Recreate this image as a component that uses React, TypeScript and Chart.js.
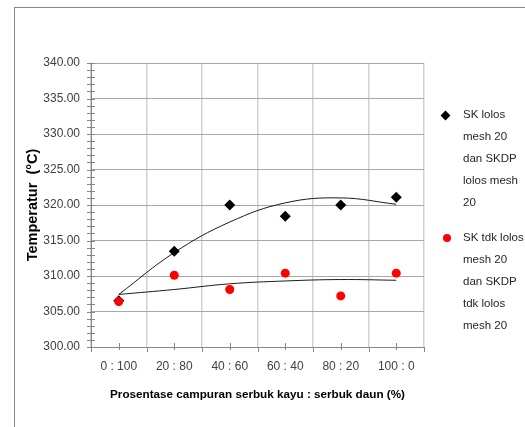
import React, { useEffect, useRef } from 'react';
import { Chart, registerables } from 'chart.js';

Chart.register(...registerables);

const categories = ['0 : 100', '20 : 80', '40 : 60', '60 : 40', '80 : 20', '100 : 0'];
const skLolos = [306.5, 313.5, 320.0, 318.4, 320.0, 321.1];
const skTdkLolos = [306.4, 310.1, 308.1, 310.4, 307.2, 310.4];
const trendLolos = [307.4, 313.3, 317.6, 320.3, 321.0, 320.1];
const trendTdkLolos = [307.4, 308.1, 308.9, 309.3, 309.5, 309.4];
const yMin = 300;
const yMax = 340;
const yStep = 5;
const legendLolos = ['SK lolos', 'mesh 20', 'dan SKDP', 'lolos mesh', '20'];
const legendTdkLolos = ['SK tdk lolos', 'mesh 20', 'dan SKDP', 'tdk lolos', 'mesh 20'];
const xTitle = 'Prosentase campuran serbuk kayu : serbuk daun (%)';
const yTitle = 'Temperatur  (°C)';

const FONT = "'Liberation Sans', Arial, sans-serif";

export default function App() {
  const ref = useRef<HTMLCanvasElement>(null);

  useEffect(() => {
    const tickPlugin = {
      id: 'excelTicks',
      beforeDatasetsDraw(chart: any) {
        const { ctx, chartArea } = chart;
        const y = chart.scales.y;
        ctx.save();
        ctx.strokeStyle = '#868686';
        ctx.lineWidth = 1;
        ctx.beginPath();
        for (let v = yMin; v <= yMax; v++) {
          const py = Math.round(y.getPixelForValue(v)) + 0.5;
          ctx.moveTo(chartArea.left - 4, py);
          ctx.lineTo(chartArea.left + 4, py);
        }
        const n = categories.length;
        const w = (chartArea.right - chartArea.left) / n;
        for (let i = 0; i <= n; i++) {
          const bx = Math.round(chartArea.left + i * w) + 0.5;
          ctx.moveTo(bx, chartArea.bottom);
          ctx.lineTo(bx, chartArea.bottom + 5);
        }
        for (let i = 0; i < n; i++) {
          const cx = Math.round(chartArea.left + (i + 0.5) * w) + 0.5;
          ctx.moveTo(cx, chartArea.bottom - 4);
          ctx.lineTo(cx, chartArea.bottom + 3);
        }
        ctx.stroke();
        ctx.restore();
      },
    };

    const chart = new Chart(ref.current as HTMLCanvasElement, {
      type: 'line',
      data: {
        labels: categories,
        datasets: [
          {
            label: legendTdkLolos.join(' '),
            data: skTdkLolos,
            showLine: false,
            pointStyle: 'circle',
            pointRadius: 4.5,
            backgroundColor: '#ff0000',
            borderColor: '#ff0000',
            borderWidth: 0,
          },
          {
            label: legendLolos.join(' '),
            data: skLolos,
            showLine: false,
            pointStyle: 'rectRot',
            pointRadius: 5.5,
            backgroundColor: '#000000',
            borderColor: '#000000',
            borderWidth: 0,
          },
          {
            label: 'trend tdk lolos',
            data: trendTdkLolos,
            pointRadius: 0,
            borderColor: '#1a1a1a',
            borderWidth: 1,
            tension: 0.4,
            fill: false,
          },
          {
            label: 'trend lolos',
            data: trendLolos,
            pointRadius: 0,
            borderColor: '#1a1a1a',
            borderWidth: 1,
            tension: 0.4,
            fill: false,
          },
        ],
      },
      options: {
        responsive: false,
        animation: false,
        events: [],
        layout: { padding: { left: 20, top: 63, right: 101, bottom: 10 } },
        plugins: { legend: { display: false }, tooltip: { enabled: false } },
        scales: {
          x: {
            type: 'category',
            offset: true,
            grid: { offset: true, color: '#d2d2d2', lineWidth: 1.5, drawTicks: false },
            border: { color: '#868686', width: 1 },
            ticks: { color: '#404040', font: { family: FONT, size: 12 }, padding: 12, maxRotation: 0, autoSkip: false },
            title: {
              display: true,
              text: xTitle,
              color: '#000000',
              font: { family: FONT, size: 11.7, weight: 'bold' },
              padding: { top: 4, bottom: 15 },
            },
            afterFit(scale: any) {
              scale.height = 70;
            },
          },
          y: {
            min: yMin,
            max: yMax,
            grid: { color: '#a8a8a8', lineWidth: 1, drawTicks: false },
            border: { color: '#868686', width: 1 },
            ticks: {
              stepSize: yStep,
              color: '#404040',
              font: { family: FONT, size: 12 },
              padding: 11,
              callback: (v: any) => Number(v).toFixed(2),
            },
            title: {
              display: true,
              text: yTitle,
              color: '#000000',
              font: { family: FONT, size: 14.5, weight: 'bold' },
              padding: { top: 4, bottom: 0 },
            },
            afterFit(scale: any) {
              scale.width = 71;
            },
          },
        },
      },
      plugins: [tickPlugin],
    } as any);
    return () => chart.destroy();
  }, []);

  const legendText: React.CSSProperties = {
    position: 'absolute',
    left: 463,
    fontFamily: FONT,
    fontSize: 11.5,
    lineHeight: '22px',
    color: '#262626',
    whiteSpace: 'nowrap',
  };

  return (
    <div style={{ position: 'fixed', left: 0, top: 0, width: 525, height: 427, background: '#ffffff', overflow: 'hidden' }}>
      <div style={{ position: 'absolute', left: 14, top: 7, width: 600, height: 500, borderLeft: '1px solid #8a8a8a', borderTop: '1px solid #8a8a8a' }} />
      <canvas ref={ref} width={525} height={427} style={{ position: 'absolute', left: 0, top: 0, display: 'block' }} />
      <div style={{ position: 'absolute', left: 442, top: 112, width: 7, height: 7, background: '#000', transform: 'rotate(45deg)' }} />
      <div style={{ ...legendText, top: 103 }}>
        {legendLolos.map((t, i) => (<div key={i}>{t}</div>))}
      </div>
      <div style={{ position: 'absolute', left: 443, top: 234, width: 8, height: 8, borderRadius: '50%', background: '#ff0000' }} />
      <div style={{ ...legendText, top: 226 }}>
        {legendTdkLolos.map((t, i) => (<div key={i}>{t}</div>))}
      </div>
    </div>
  );
}
